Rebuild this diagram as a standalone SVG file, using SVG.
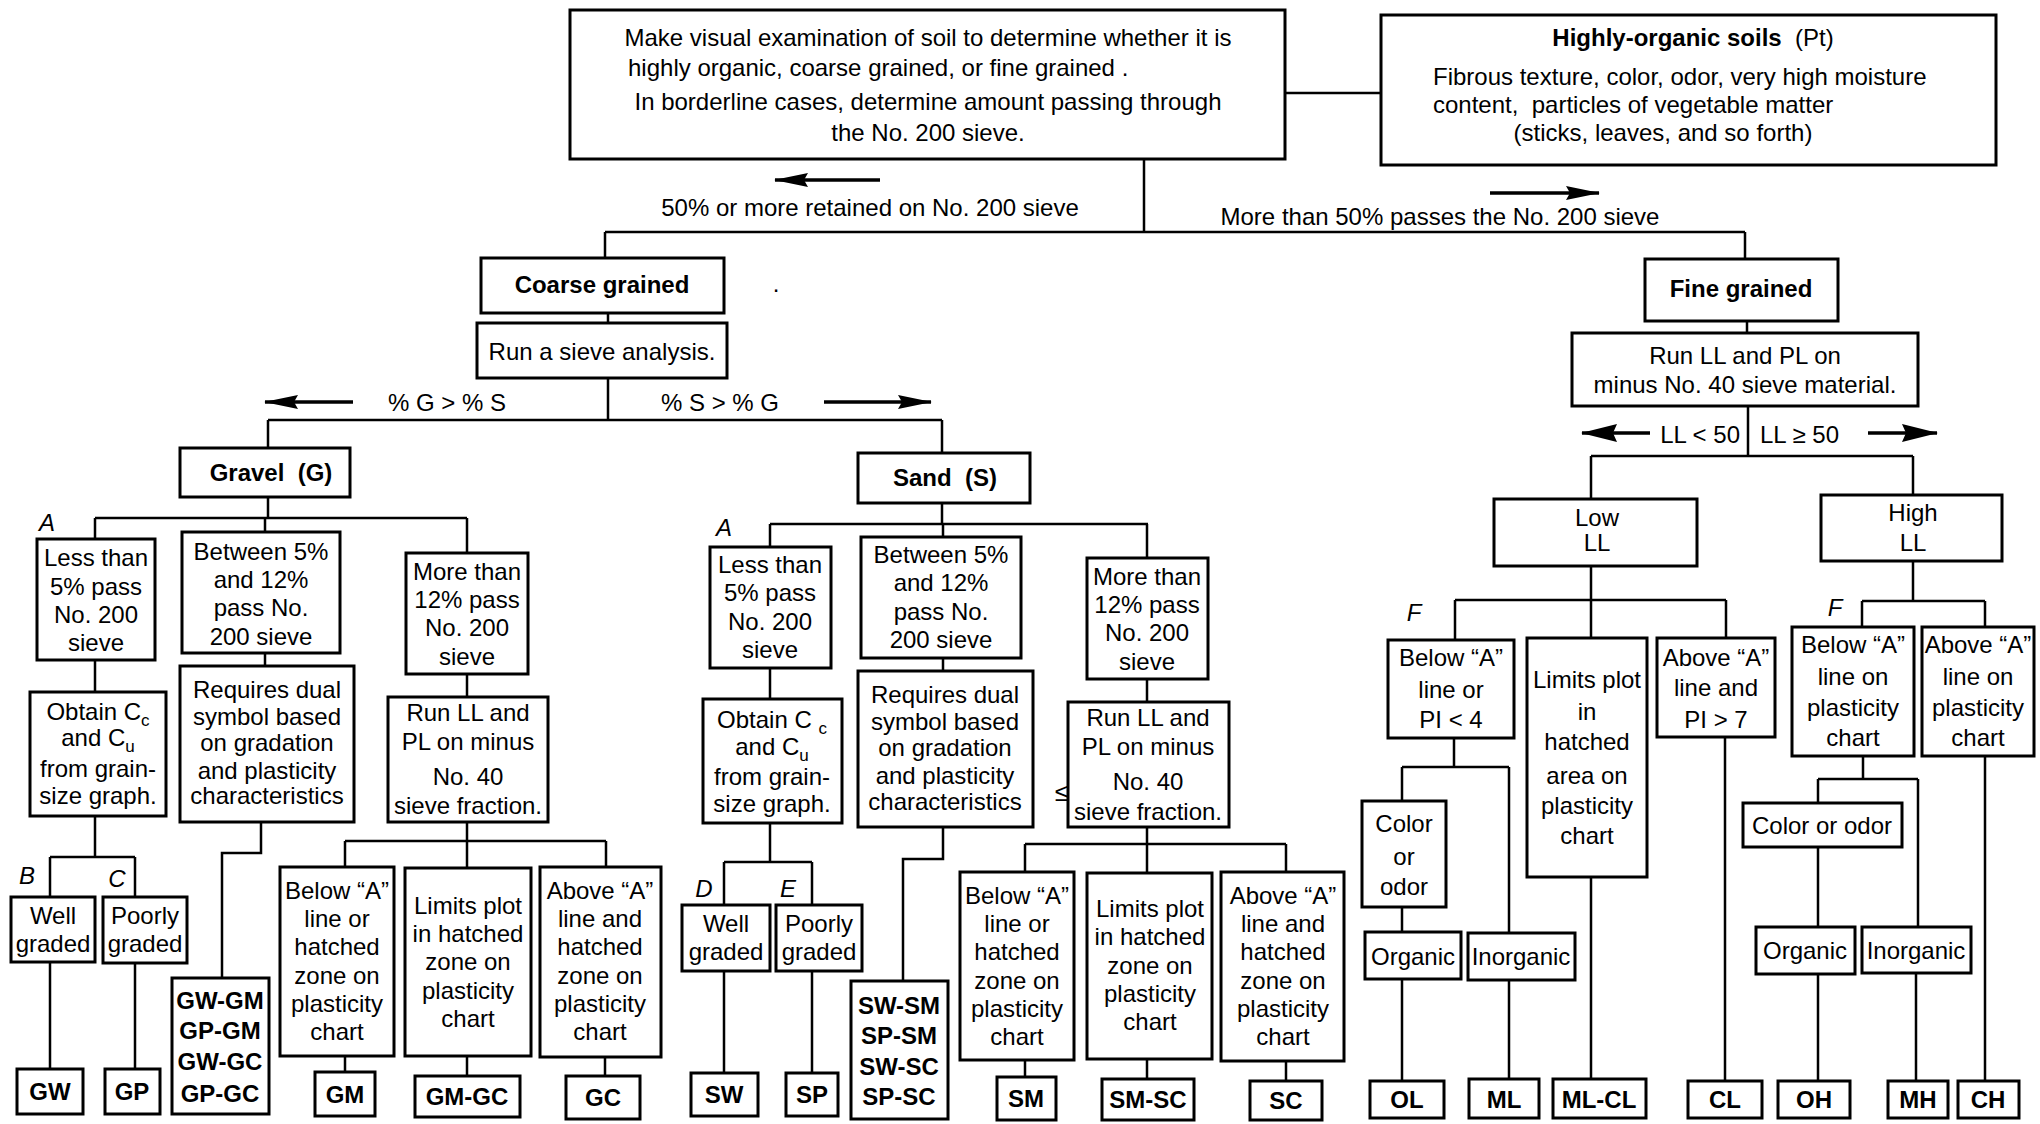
<svg xmlns="http://www.w3.org/2000/svg" width="2040" height="1124" viewBox="0 0 2040 1124">
<defs>
<style>
.box{fill:#fff;stroke:#000;stroke-width:3}
.ln{fill:none;stroke:#000;stroke-width:2.5}
.ar{fill:none;stroke:#000;stroke-width:3.3}
text{font-family:"Liberation Sans",Arial,Helvetica,sans-serif;font-size:24px;fill:#000}
.c{text-anchor:middle}
.e{text-anchor:end}
.b{font-weight:bold}
.i{font-style:italic}
.sub{font-size:17px}
</style>
<marker id="ah" viewBox="0 0 34 14" refX="33" refY="7" markerWidth="34" markerHeight="14" markerUnits="userSpaceOnUse" orient="auto"><path d="M0,0L34,7L0,14L4,7z" fill="#000"/></marker>
<marker id="ahl" viewBox="0 0 36 18" refX="35" refY="9" markerWidth="36" markerHeight="18" markerUnits="userSpaceOnUse" orient="auto"><path d="M0,0L36,9L0,18L4,9z" fill="#000"/></marker>
</defs>
<rect width="2040" height="1124" fill="#fff"/>
<g id="connectors">
<path class="ln" d="M1144,159V232 M605,232H1745 M605,232V258 M1745,232V259 M1285,93H1381 M608,313V323 M608,378V420 M268,420H942 M268,420V448 M942,420V453"/>
<path class="ln" d="M268,497V518 M95,518H467 M95,518V539 M265,518V532 M467,518V553 M95,660V692 M265,653V666 M467,674V697 M95,816V857 M50,857H135 M50,857V897 M135,857V897 M50,962V1069 M135,963V1069 M261,822V853H222V978 M467,822V841 M345,841H606 M345,841V867 M467,841V868 M606,841V867 M345,1056V1072 M467,1056V1076 M605,1057V1076"/>
<path class="ln" d="M942,503V524 M770,524H1148 M770,524V547 M943,524V537 M1147,524V558 M770,668V699 M943,658V671 M1147,679V702 M770,823V862 M724,862H812 M724,862V905 M812,862V905 M724,971V1073 M812,971V1073 M943,827V859H903V981 M1147,827V844 M1025,844H1286 M1025,844V872 M1147,844V873 M1286,844V872 M1025,1060V1077 M1147,1059V1079 M1286,1061V1081"/>
<path class="ln" d="M1747,321V333 M1748,406V456 M1591,456H1913 M1591,456V499 M1913,456V495 M1591,566V600 M1455,600H1726 M1455,600V640 M1591,600V638 M1726,600V638 M1454,738V767 M1402,767H1509 M1402,767V801 M1509,767V933 M1402,907V932 M1402,979V1081 M1509,980V1079 M1591,877V1079 M1725,737V1081 M1913,561V601 M1862,601H1985 M1862,601V627 M1985,601V627 M1863,756V779 M1818,779H1918 M1818,779V803 M1918,779V927 M1818,847V927 M1818,974V1081 M1916,973V1081 M1985,756V1081"/>
<line class="ar" x1="880" y1="180" x2="775" y2="180" marker-end="url(#ah)"/>
<line class="ar" x1="1490" y1="193" x2="1599" y2="193" marker-end="url(#ah)"/>
<line class="ar" x1="353" y1="402" x2="265" y2="402" marker-end="url(#ah)"/>
<line class="ar" x1="824" y1="402" x2="931" y2="402" marker-end="url(#ah)"/>
<line class="ar" x1="1650" y1="433" x2="1582" y2="433" marker-end="url(#ahl)"/>
<line class="ar" x1="1868" y1="433" x2="1937" y2="433" marker-end="url(#ahl)"/>
<text class="c" x="870" y="216">50% or more retained on No. 200 sieve</text>
<text class="c" x="1440" y="225">More than 50% passes the No. 200 sieve</text>
<text class="c" x="447" y="411">% G &gt; % S</text>
<text class="c" x="720" y="411">% S &gt; % G</text>
<text class="e" x="1740" y="443">LL &lt; 50</text>
<text x="1760" y="443">LL ≥ 50</text>
<text class="c i" x="47" y="531">A</text>
<text class="c i" x="724" y="536">A</text>
<text class="c i" x="27" y="884">B</text>
<text class="c i" x="117" y="887">C</text>
<text class="c i" x="704" y="897">D</text>
<text class="c i" x="788" y="897">E</text>
<text class="c i" x="1414" y="621">F</text>
<text class="c i" x="1835" y="616">F</text>
<text class="c" x="776" y="292">.</text>
<text class="c" x="1062" y="801" style="font-size:26px">≤</text>
</g>
<g id="main"><rect class="box" x="570" y="10" width="715" height="149"/>
<text class="c" x="928" y="46">Make visual examination of soil to determine whether it is</text>
<text x="628" y="76">highly organic, coarse grained, or fine grained .</text>
<text class="c" x="928" y="110">In borderline cases, determine amount passing through</text>
<text class="c" x="928" y="141">the No. 200 sieve.</text></g>
<g id="pt"><rect class="box" x="1381" y="15" width="615" height="150"/>
<text class="c" x="1693" y="46"><tspan class="b">Highly-organic soils</tspan>&#160;&#160;(Pt)</text>
<text x="1433" y="85">Fibrous texture, color, odor, very high moisture</text>
<text x="1433" y="113">content,&#160; particles of vegetable matter</text>
<text class="c" x="1663" y="141">(sticks, leaves, and so forth)</text></g>
<g id="coarse"><rect class="box" x="481" y="258" width="243" height="55"/><text class="c b" x="602" y="293">Coarse grained</text></g>
<g id="sieve"><rect class="box" x="477" y="323" width="250" height="55"/><text class="c" x="602" y="360">Run a sieve analysis.</text></g>
<g id="gravel"><rect class="box" x="180" y="448" width="170" height="49"/><text class="c b" x="271" y="481">Gravel&#160;&#160;(G)</text></g>
<g id="g-less"><rect class="box" x="37" y="539" width="118" height="121"/><text class="c"><tspan x="96" y="566">Less than</tspan><tspan x="96" y="595">5% pass</tspan><tspan x="96" y="623">No. 200</tspan><tspan x="96" y="651">sieve</tspan></text></g>
<g id="g-between"><rect class="box" x="182" y="532" width="158" height="121"/><text class="c"><tspan x="261" y="560">Between 5%</tspan><tspan x="261" y="588">and 12%</tspan><tspan x="261" y="616">pass No.</tspan><tspan x="261" y="645">200 sieve</tspan></text></g>
<g id="g-more"><rect class="box" x="406" y="553" width="122" height="121"/><text class="c"><tspan x="467" y="580">More than</tspan><tspan x="467" y="608">12% pass</tspan><tspan x="467" y="636">No. 200</tspan><tspan x="467" y="665">sieve</tspan></text></g>
<g id="g-obtain"><rect class="box" x="30" y="692" width="136" height="124"/><text class="c"><tspan x="98" y="720">Obtain C<tspan class="sub" dy="6">c</tspan></tspan><tspan x="98" y="746">and C<tspan class="sub" dy="6">u</tspan></tspan><tspan x="98" y="777">from grain-</tspan><tspan x="98" y="804">size graph.</tspan></text></g>
<g id="g-requires"><rect class="box" x="180" y="666" width="174" height="156"/><text class="c"><tspan x="267" y="698">Requires dual</tspan><tspan x="267" y="725">symbol based</tspan><tspan x="267" y="751">on gradation</tspan><tspan x="267" y="779">and plasticity</tspan><tspan x="267" y="804">characteristics</tspan></text></g>
<g id="g-runll"><rect class="box" x="388" y="697" width="160" height="125"/><text class="c"><tspan x="468" y="721">Run LL and</tspan><tspan x="468" y="750">PL on minus</tspan><tspan x="468" y="785">No. 40</tspan><tspan x="468" y="814">sieve fraction.</tspan></text></g>
<g id="g-well"><rect class="box" x="11" y="897" width="84" height="65"/><text class="c"><tspan x="53" y="924">Well</tspan><tspan x="53" y="952">graded</tspan></text></g>
<g id="g-poorly"><rect class="box" x="103" y="897" width="84" height="66"/><text class="c"><tspan x="145" y="924">Poorly</tspan><tspan x="145" y="952">graded</tspan></text></g>
<g id="gw"><rect class="box" x="17" y="1069" width="66" height="45"/><text class="c b" x="50" y="1100">GW</text></g>
<g id="gp"><rect class="box" x="105" y="1069" width="55" height="45"/><text class="c b" x="132" y="1100">GP</text></g>
<g id="gw-gm"><rect class="box" x="172" y="978" width="97" height="136"/><text class="c b"><tspan x="220" y="1009">GW-GM</tspan><tspan x="220" y="1039">GP-GM</tspan><tspan x="220" y="1070">GW-GC</tspan><tspan x="220" y="1102">GP-GC</tspan></text></g>
<g id="g-below"><rect class="box" x="280" y="867" width="114" height="189"/><text class="c"><tspan x="337" y="899">Below “A”</tspan><tspan x="337" y="927">line or</tspan><tspan x="337" y="955">hatched</tspan><tspan x="337" y="984">zone on</tspan><tspan x="337" y="1012">plasticity</tspan><tspan x="337" y="1040">chart</tspan></text></g>
<g id="g-limits"><rect class="box" x="405" y="868" width="126" height="188"/><text class="c"><tspan x="468" y="914">Limits plot</tspan><tspan x="468" y="942">in hatched</tspan><tspan x="468" y="970">zone on</tspan><tspan x="468" y="999">plasticity</tspan><tspan x="468" y="1027">chart</tspan></text></g>
<g id="g-above"><rect class="box" x="540" y="867" width="121" height="190"/><text class="c"><tspan x="600" y="899">Above “A”</tspan><tspan x="600" y="927">line and</tspan><tspan x="600" y="955">hatched</tspan><tspan x="600" y="984">zone on</tspan><tspan x="600" y="1012">plasticity</tspan><tspan x="600" y="1040">chart</tspan></text></g>
<g id="gm"><rect class="box" x="315" y="1072" width="60" height="44"/><text class="c b" x="345" y="1103">GM</text></g>
<g id="gm-gc"><rect class="box" x="415" y="1076" width="105" height="41"/><text class="c b" x="467" y="1105">GM-GC</text></g>
<g id="gc"><rect class="box" x="566" y="1076" width="74" height="43"/><text class="c b" x="603" y="1106">GC</text></g>
<g id="sand"><rect class="box" x="858" y="453" width="172" height="50"/><text class="c b" x="945" y="486">Sand&#160;&#160;(S)</text></g>
<g id="s-less"><rect class="box" x="710" y="547" width="121" height="121"/><text class="c"><tspan x="770" y="573">Less than</tspan><tspan x="770" y="601">5% pass</tspan><tspan x="770" y="630">No. 200</tspan><tspan x="770" y="658">sieve</tspan></text></g>
<g id="s-between"><rect class="box" x="861" y="537" width="160" height="121"/><text class="c"><tspan x="941" y="563">Between 5%</tspan><tspan x="941" y="591">and 12%</tspan><tspan x="941" y="620">pass No.</tspan><tspan x="941" y="648">200 sieve</tspan></text></g>
<g id="s-more"><rect class="box" x="1087" y="558" width="121" height="121"/><text class="c"><tspan x="1147" y="585">More than</tspan><tspan x="1147" y="613">12% pass</tspan><tspan x="1147" y="641">No. 200</tspan><tspan x="1147" y="670">sieve</tspan></text></g>
<g id="s-obtain"><rect class="box" x="703" y="699" width="139" height="124"/><text class="c"><tspan x="772" y="728">Obtain C <tspan class="sub" dy="6">c</tspan></tspan><tspan x="772" y="755">and C<tspan class="sub" dy="6">u</tspan></tspan><tspan x="772" y="785">from grain-</tspan><tspan x="772" y="812">size graph.</tspan></text></g>
<g id="s-requires"><rect class="box" x="858" y="671" width="175" height="156"/><text class="c"><tspan x="945" y="703">Requires dual</tspan><tspan x="945" y="730">symbol based</tspan><tspan x="945" y="756">on gradation</tspan><tspan x="945" y="784">and plasticity</tspan><tspan x="945" y="810">characteristics</tspan></text></g>
<g id="s-runll"><rect class="box" x="1068" y="702" width="161" height="125"/><text class="c"><tspan x="1148" y="726">Run LL and</tspan><tspan x="1148" y="755">PL on minus</tspan><tspan x="1148" y="790">No. 40</tspan><tspan x="1148" y="820">sieve fraction.</tspan></text></g>
<g id="s-well"><rect class="box" x="682" y="905" width="88" height="66"/><text class="c"><tspan x="726" y="932">Well</tspan><tspan x="726" y="960">graded</tspan></text></g>
<g id="s-poorly"><rect class="box" x="776" y="905" width="86" height="66"/><text class="c"><tspan x="819" y="932">Poorly</tspan><tspan x="819" y="960">graded</tspan></text></g>
<g id="sw"><rect class="box" x="691" y="1073" width="67" height="43"/><text class="c b" x="724" y="1103">SW</text></g>
<g id="sp"><rect class="box" x="786" y="1073" width="52" height="43"/><text class="c b" x="812" y="1103">SP</text></g>
<g id="sw-sm"><rect class="box" x="851" y="981" width="97" height="138"/><text class="c b"><tspan x="899" y="1014">SW-SM</tspan><tspan x="899" y="1044">SP-SM</tspan><tspan x="899" y="1075">SW-SC</tspan><tspan x="899" y="1105">SP-SC</tspan></text></g>
<g id="s-below"><rect class="box" x="960" y="872" width="114" height="188"/><text class="c"><tspan x="1017" y="904">Below “A”</tspan><tspan x="1017" y="932">line or</tspan><tspan x="1017" y="960">hatched</tspan><tspan x="1017" y="989">zone on</tspan><tspan x="1017" y="1017">plasticity</tspan><tspan x="1017" y="1045">chart</tspan></text></g>
<g id="s-limits"><rect class="box" x="1087" y="873" width="125" height="186"/><text class="c"><tspan x="1150" y="917">Limits plot</tspan><tspan x="1150" y="945">in hatched</tspan><tspan x="1150" y="974">zone on</tspan><tspan x="1150" y="1002">plasticity</tspan><tspan x="1150" y="1030">chart</tspan></text></g>
<g id="s-above"><rect class="box" x="1221" y="872" width="123" height="189"/><text class="c"><tspan x="1283" y="904">Above “A”</tspan><tspan x="1283" y="932">line and</tspan><tspan x="1283" y="960">hatched</tspan><tspan x="1283" y="989">zone on</tspan><tspan x="1283" y="1017">plasticity</tspan><tspan x="1283" y="1045">chart</tspan></text></g>
<g id="sm"><rect class="box" x="997" y="1077" width="59" height="43"/><text class="c b" x="1026" y="1107">SM</text></g>
<g id="sm-sc"><rect class="box" x="1102" y="1079" width="92" height="41"/><text class="c b" x="1148" y="1108">SM-SC</text></g>
<g id="sc"><rect class="box" x="1250" y="1081" width="72" height="39"/><text class="c b" x="1286" y="1109">SC</text></g>
<g id="fine"><rect class="box" x="1645" y="259" width="193" height="62"/><text class="c b" x="1741" y="297">Fine grained</text></g>
<g id="f-runll"><rect class="box" x="1572" y="333" width="346" height="73"/><text class="c"><tspan x="1745" y="364">Run LL and PL on</tspan><tspan x="1745" y="393">minus No. 40 sieve material.</tspan></text></g>
<g id="low"><rect class="box" x="1494" y="499" width="203" height="67"/><text class="c"><tspan x="1597" y="526">Low</tspan><tspan x="1597" y="551">LL</tspan></text></g>
<g id="high"><rect class="box" x="1821" y="495" width="181" height="66"/><text class="c"><tspan x="1913" y="521">High</tspan><tspan x="1913" y="551">LL</tspan></text></g>
<g id="l-below"><rect class="box" x="1388" y="640" width="126" height="98"/><text class="c"><tspan x="1451" y="666">Below “A”</tspan><tspan x="1451" y="698">line or</tspan><tspan x="1451" y="728">PI &lt; 4</tspan></text></g>
<g id="l-limits"><rect class="box" x="1527" y="638" width="120" height="239"/><text class="c"><tspan x="1587" y="688">Limits plot</tspan><tspan x="1587" y="720">in</tspan><tspan x="1587" y="750">hatched</tspan><tspan x="1587" y="784">area on</tspan><tspan x="1587" y="814">plasticity</tspan><tspan x="1587" y="844">chart</tspan></text></g>
<g id="l-above"><rect class="box" x="1657" y="638" width="118" height="99"/><text class="c"><tspan x="1716" y="666">Above “A”</tspan><tspan x="1716" y="696">line and</tspan><tspan x="1716" y="728">PI &gt; 7</tspan></text></g>
<g id="l-color"><rect class="box" x="1362" y="801" width="84" height="106"/><text class="c"><tspan x="1404" y="832">Color</tspan><tspan x="1404" y="865">or</tspan><tspan x="1404" y="895">odor</tspan></text></g>
<g id="l-organic"><rect class="box" x="1365" y="932" width="96" height="47"/><text class="c" x="1413" y="965">Organic</text></g>
<g id="l-inorganic"><rect class="box" x="1468" y="933" width="107" height="47"/><text class="c" x="1521" y="965">Inorganic</text></g>
<g id="ol"><rect class="box" x="1370" y="1081" width="74" height="37"/><text class="c b" x="1407" y="1108">OL</text></g>
<g id="ml"><rect class="box" x="1469" y="1079" width="70" height="39"/><text class="c b" x="1504" y="1108">ML</text></g>
<g id="ml-cl"><rect class="box" x="1553" y="1079" width="93" height="39"/><text class="c b" x="1599" y="1108">ML-CL</text></g>
<g id="cl"><rect class="box" x="1688" y="1081" width="74" height="37"/><text class="c b" x="1725" y="1108">CL</text></g>
<g id="h-below"><rect class="box" x="1792" y="627" width="122" height="129"/><text class="c"><tspan x="1853" y="653">Below “A”</tspan><tspan x="1853" y="685">line on</tspan><tspan x="1853" y="716">plasticity</tspan><tspan x="1853" y="746">chart</tspan></text></g>
<g id="h-above"><rect class="box" x="1922" y="627" width="112" height="129"/><text class="c"><tspan x="1978" y="653">Above “A”</tspan><tspan x="1978" y="685">line on</tspan><tspan x="1978" y="716">plasticity</tspan><tspan x="1978" y="746">chart</tspan></text></g>
<g id="h-color"><rect class="box" x="1743" y="803" width="159" height="44"/><text class="c" x="1822" y="834">Color or odor</text></g>
<g id="h-organic"><rect class="box" x="1756" y="927" width="99" height="47"/><text class="c" x="1805" y="959">Organic</text></g>
<g id="h-inorganic"><rect class="box" x="1862" y="927" width="109" height="46"/><text class="c" x="1916" y="959">Inorganic</text></g>
<g id="oh"><rect class="box" x="1778" y="1081" width="72" height="37"/><text class="c b" x="1814" y="1108">OH</text></g>
<g id="mh"><rect class="box" x="1888" y="1081" width="60" height="37"/><text class="c b" x="1918" y="1108">MH</text></g>
<g id="ch"><rect class="box" x="1958" y="1081" width="61" height="37"/><text class="c b" x="1988" y="1108">CH</text></g>
</svg>
